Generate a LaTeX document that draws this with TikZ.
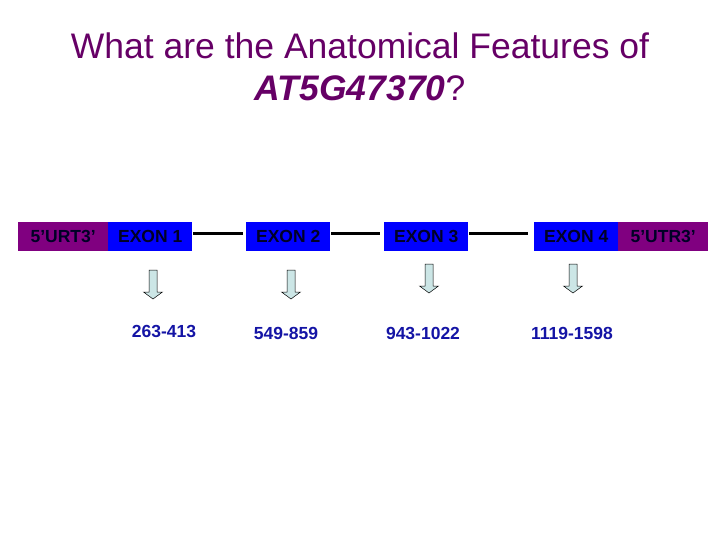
\documentclass[tikz,border=0pt]{standalone}
\usepackage{fontspec}
\setmainfont{Liberation Sans}
\definecolor{titlepurple}{RGB}{102,0,102}
\definecolor{utrpurple}{RGB}{128,0,128}
\definecolor{exonblue}{RGB}{0,0,255}
\definecolor{numblue}{RGB}{20,20,165}
\definecolor{arrowfill}{RGB}{204,230,230}
\begin{document}
\begin{tikzpicture}[x=1pt,y=-1pt,
  seg/.style={draw=none, minimum height=28.5pt, inner sep=0pt, anchor=north west,
    font=\fontsize{17.5}{20}\selectfont\bfseries, text=black!85!blue},
  utr/.style={seg, fill=utrpurple},
  exon/.style={seg, fill=exonblue},
  intron/.style={line width=2.4pt, black},
  numlab/.style={font=\fontsize{17.5}{20}\selectfont\bfseries, text=numblue, inner sep=0pt},
  blockarrow/.style={draw=black, line width=0.5pt, fill=arrowfill, line join=miter}
]
\useasboundingbox (0,0) rectangle (720,540);
% title
\node[font=\fontsize{35.5}{42}\selectfont, text=titlepurple, align=center] (title) at (360,67)
  {What are the Anatomical Features of\\\textbf{\textit{AT5G47370}}?};
% segments
\node[utr, minimum width=90pt] (u5) at (18,222) {5’URT3’};
\node[exon, minimum width=84pt] (ex1) at (108,222) {EXON 1};
\node[exon, minimum width=84pt] (ex2) at (246,222) {EXON 2};
\node[exon, minimum width=84pt] (ex3) at (384,222) {EXON 3};
\node[exon, minimum width=84pt] (ex4) at (534,222) {EXON 4};
\node[utr, minimum width=90pt] (u3) at (618,222) {5’UTR3’};
% introns
\draw[intron] ([yshift=3pt,xshift=1pt]ex1.east) -- ([yshift=3pt,xshift=-3pt]ex2.west);
\draw[intron] ([yshift=3pt,xshift=1pt]ex2.east) -- ([yshift=3pt,xshift=-4pt]ex3.west);
\draw[intron] ([yshift=3pt,xshift=1pt]ex3.east) -- ([yshift=3pt,xshift=-6pt]ex4.west);
% block arrows
\foreach \cx/\top in {153/270, 291/270, 429/264, 573/264} {
  \draw[blockarrow] (\cx-4,\top) -- (\cx+4,\top) -- (\cx+4,\top+22) -- (\cx+9.5,\top+22)
    -- (\cx,\top+29) -- (\cx-9.5,\top+22) -- (\cx-4,\top+22) -- cycle;
}
% coordinate labels
\node[numlab] (n1) at (164,331) {263-413};
\node[numlab] (n2) at (286,333) {549-859};
\node[numlab] (n3) at (423,333) {943-1022};
\node[numlab] (n4) at (572,333) {1119-1598};
\end{tikzpicture}
\end{document}
